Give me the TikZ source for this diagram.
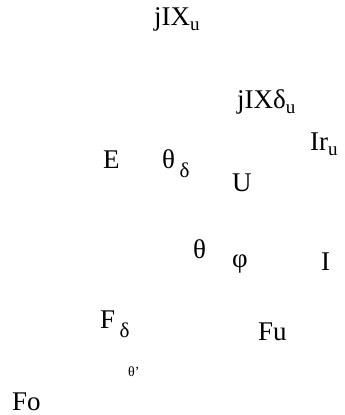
\documentclass[tikz,border=0pt]{standalone}
\usepackage{fontspec}
\setmainfont{Liberation Serif}
\newcommand{\lsub}[1]{\raisebox{-5pt}{\fontsize{19}{19}\selectfont #1}}
\newcommand{\lsubd}[1]{\raisebox{-9pt}{\fontsize{21}{21}\selectfont #1}}
\begin{document}
\begin{tikzpicture}[x=1pt,y=-1pt,
  lbl/.style={anchor=base west,inner sep=0pt,font=\fontsize{27}{27}\selectfont},
  small/.style={anchor=base west,inner sep=0pt,font=\fontsize{14}{14}\selectfont}]
\useasboundingbox (0,0) rectangle (345,415);
\node[lbl] (jix) at (154,25) {jIX\lsub{u}};
\node[lbl] (jixd) at (237,108) {jIXδ\lsub{u}};
\node[lbl] (iru) at (310,150) {Ir\lsub{u}};
\node[lbl] (e) at (103,168) {E};
\node[lbl] (td) at (162,168) {θ\,\lsubd{δ}};
\node[lbl] (u) at (232,191) {U};
\node[lbl] (th) at (193,258) {θ};
\node[lbl] (phi) at (232,267) {φ};
\node[lbl] (i) at (321,270) {I};
\node[lbl] (fd) at (100,328) {F\,\lsubd{δ}};
\node[lbl] (fu) at (258,340) {Fu};
\node[small] (thp) at (128,376) {θ\symbol{"27}};
\node[lbl] (fo) at (12,410) {Fo};
\end{tikzpicture}
\end{document}
